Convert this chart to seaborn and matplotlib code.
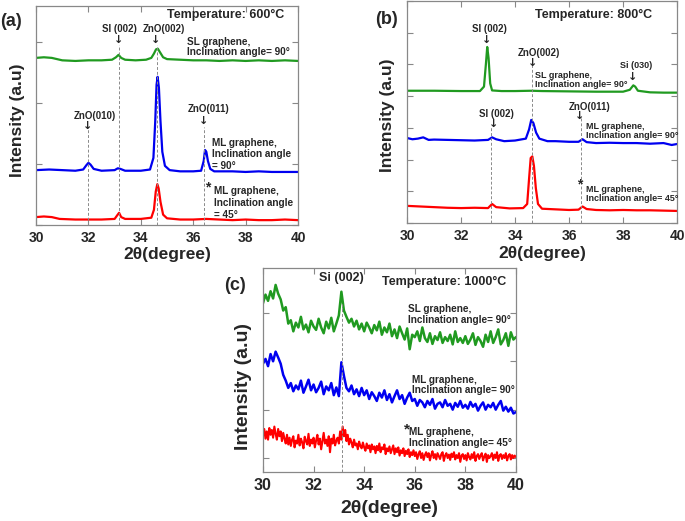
import numpy as np
import seaborn as sns
import matplotlib.pyplot as plt

# ---------------- data ----------------
# panel (a) 600 C
a_sl_x = [30.0, 30.3, 30.6, 30.8, 31.0, 31.5, 32.0, 32.5, 32.9, 33.05, 33.15, 33.25, 33.4, 33.8, 34.2,
          34.4, 34.5, 34.58, 34.65, 34.72, 34.85, 35.0, 35.5, 36.0, 36.5, 37.0, 37.5, 38.0, 38.5, 39.0, 39.5, 40.0]
a_sl_y = [2.74, 2.75, 2.74, 2.72, 2.70, 2.69, 2.70, 2.70, 2.71, 2.75, 2.79, 2.74, 2.71, 2.70, 2.71,
          2.74, 2.81, 2.88, 2.89, 2.84, 2.75, 2.72, 2.71, 2.70, 2.70, 2.69, 2.70, 2.69, 2.70, 2.69, 2.70, 2.69]

a_ml90_x = [30.0, 30.5, 31.0, 31.5, 31.8, 31.92, 32.0, 32.08, 32.2, 32.5, 33.0, 33.12, 33.22, 33.4, 34.0,
            34.35, 34.48, 34.55, 34.6, 34.64, 34.69, 34.75, 34.82, 34.92, 35.1, 35.5, 36.0, 36.3, 36.4,
            36.45, 36.5, 36.56, 36.65, 36.8, 37.5, 38.0, 38.5, 39.0, 39.5, 40.0]
a_ml90_y = [0.90, 0.91, 0.90, 0.89, 0.91, 0.98, 1.02, 0.99, 0.92, 0.89, 0.90, 0.93, 0.92, 0.89, 0.89,
            0.91, 1.10, 1.70, 2.30, 2.43, 2.25, 1.70, 1.20, 0.97, 0.90, 0.88, 0.88, 0.89, 1.05,
            1.23, 1.20, 1.05, 0.92, 0.88, 0.88, 0.87, 0.88, 0.87, 0.87, 0.87]

a_ml45_x = [30.0, 30.3, 30.6, 30.9, 31.5, 32.0, 32.5, 33.0, 33.1, 33.17, 33.25, 33.4, 34.0, 34.4, 34.5,
            34.57, 34.63, 34.68, 34.75, 34.85, 35.0, 35.5, 36.0, 36.5, 37.0, 37.5, 38.0, 38.5, 39.0, 39.5, 40.0]
a_ml45_y = [0.13, 0.14, 0.13, 0.10, 0.09, 0.09, 0.09, 0.10, 0.16, 0.20, 0.13, 0.10, 0.10, 0.12, 0.25,
            0.55, 0.67, 0.60, 0.38, 0.17, 0.11, 0.09, 0.09, 0.10, 0.09, 0.08, 0.09, 0.08, 0.08, 0.09, 0.08]

# panel (b) 800 C
b_sl_x = [30.0, 31.0, 32.0, 32.7, 32.85, 32.92, 32.97, 33.02, 33.08, 33.15, 33.5, 34.0, 34.6, 35.0, 36.0,
          37.0, 38.0, 38.25, 38.38, 38.45, 38.55, 39.0, 39.5, 40.0]
b_sl_y = [4.17, 4.17, 4.16, 4.16, 4.30, 5.00, 5.55, 5.20, 4.40, 4.18, 4.16, 4.16, 4.17, 4.16, 4.15,
          4.14, 4.14, 4.20, 4.34, 4.30, 4.17, 4.12, 4.11, 4.11]

b_ml90_x = [30.0, 30.2, 30.4, 30.6, 30.8, 31.0, 31.5, 32.0, 32.5, 33.0, 33.15, 33.3, 33.6, 34.0, 34.4,
            34.52, 34.6, 34.68, 34.78, 34.9, 35.2, 35.5, 36.0, 36.35, 36.5, 36.65, 37.0, 37.5, 38.0,
            38.5, 39.0, 39.5, 39.8, 40.0]
b_ml90_y = [2.68, 2.64, 2.66, 2.70, 2.62, 2.63, 2.62, 2.61, 2.60, 2.62, 2.70, 2.64, 2.58, 2.60, 2.66,
            2.95, 3.25, 3.15, 2.85, 2.66, 2.58, 2.58, 2.56, 2.56, 2.64, 2.55, 2.52, 2.53, 2.52,
            2.52, 2.50, 2.52, 2.46, 2.49]

b_ml45_x = [30.0, 30.5, 31.0, 31.5, 32.0, 32.5, 33.0, 33.15, 33.3, 33.8, 34.3, 34.45, 34.52, 34.58, 34.64,
            34.7, 34.77, 34.85, 35.0, 35.5, 36.0, 36.35, 36.5, 36.65, 37.0, 37.5, 38.0, 38.5, 39.0, 39.5, 40.0]
b_ml45_y = [0.54, 0.52, 0.50, 0.48, 0.47, 0.48, 0.47, 0.60, 0.50, 0.46, 0.47, 0.60, 1.40, 2.05, 2.10,
            1.80, 1.10, 0.60, 0.45, 0.43, 0.41, 0.42, 0.52, 0.44, 0.41, 0.40, 0.41, 0.40, 0.40, 0.39, 0.38]

# panel (c) 1000 C, scans with 0.1 deg (SL, ML 90) and 0.05 deg (ML 45) steps
c_step_coarse = 0.1
c_step_fine = 0.05
c_sl_y = [3.20, 3.38, 3.25, 3.45, 3.30, 3.58, 3.40, 3.28, 3.05, 3.12,
          2.78, 2.85, 2.62, 2.80, 2.70, 2.92, 2.66, 2.76, 2.60, 2.84,
          2.72, 2.65, 2.88, 2.70, 2.58, 2.82, 2.68, 2.90, 2.62, 2.78,
          2.95, 3.44, 3.05, 2.92, 2.80, 2.88, 2.72, 2.84, 2.66, 2.78,
          2.62, 2.80, 2.70, 2.58, 2.75, 2.64, 2.82, 2.55, 2.70, 2.60,
          2.78, 2.52, 2.66, 2.48, 2.72, 2.58, 2.45, 2.68, 2.25, 2.55,
          2.50, 2.62, 2.42, 2.70, 2.48, 2.40, 2.58, 2.36, 2.52, 2.44,
          2.60, 2.38, 2.50, 2.42, 2.55, 2.35, 2.62, 2.40, 2.48, 2.38,
          2.52, 2.36, 2.45, 2.58, 2.34, 2.50, 2.42, 2.30, 2.55, 2.40,
          2.62, 2.38, 2.50, 2.66, 2.35, 2.44, 2.58, 2.32, 2.60, 2.45,
          2.50]
c_ml90_y = [1.95, 2.05, 1.90, 2.15, 2.00, 2.20, 2.08, 1.95, 1.72, 1.60,
            1.45, 1.55, 1.38, 1.50, 1.42, 1.60, 1.35, 1.48, 1.62, 1.40,
            1.52, 1.36, 1.45, 1.58, 1.32, 1.48, 1.40, 1.55, 1.30, 1.46,
            1.28, 1.98, 1.70, 1.45, 1.38, 1.50, 1.32, 1.42, 1.28, 1.45,
            1.30, 1.40, 1.22, 1.36, 1.28, 1.18, 1.35, 1.25, 1.40, 1.20,
            1.32, 1.15, 1.28, 1.40, 1.22, 1.30, 1.12, 1.25, 1.35, 1.18,
            1.22, 1.08, 1.20, 1.15, 1.05, 1.18, 1.10, 1.22, 1.02, 1.12,
            1.15, 1.05, 1.20, 1.08, 1.12, 1.00, 1.14, 1.06, 1.18, 1.04,
            1.10, 1.02, 1.16, 1.06, 1.12, 0.98, 1.08, 1.15, 1.00, 1.10,
            1.05, 1.14, 1.00, 1.10, 1.18, 0.98, 1.06, 0.96, 1.04, 0.92,
            0.95]
c_ml45_y = [0.45, 0.60, 0.40, 0.55, 0.38, 0.62, 0.48, 0.58, 0.42, 0.65,
            0.50, 0.38, 0.60, 0.45, 0.55, 0.35, 0.52, 0.40, 0.30, 0.48,
            0.28, 0.42, 0.25, 0.38, 0.45, 0.22, 0.36, 0.30, 0.48, 0.26,
            0.40, 0.32, 0.20, 0.44, 0.35, 0.28, 0.50, 0.25, 0.38, 0.30,
            0.42, 0.22, 0.36, 0.48, 0.28, 0.40, 0.18, 0.35, 0.52, 0.30,
            0.38, 0.25, 0.45, 0.12, 0.40, 0.30, 0.48, 0.26, 0.36, 0.42,
            0.30, 0.55, 0.38, 0.65, 0.45, 0.58, 0.35, 0.48, 0.28, 0.40,
            0.32, 0.22, 0.38, 0.26, 0.30, 0.18, 0.34, 0.25, 0.20, 0.32,
            0.22, 0.15, 0.30, 0.20, 0.26, 0.12, 0.28, 0.18, 0.24, 0.10,
            0.25, 0.16, 0.30, 0.12, 0.22, 0.18, 0.28, 0.08, 0.20, 0.14,
            0.24, 0.10, 0.18, 0.26, 0.08, 0.20, 0.12, 0.22, 0.05, 0.16,
            0.10, 0.20, 0.04, 0.15, 0.08, 0.18, 0.02, 0.12, 0.06, 0.16,
            0.04, 0.12, -0.02, 0.08, 0.14, 0.00, 0.10, -0.04, 0.06, 0.12,
            0.02, 0.10, -0.05, 0.06, 0.14, 0.00, 0.08, -0.03, 0.10, 0.04,
            -0.02, 0.08, 0.12, -0.06, 0.05, 0.10, 0.00, 0.07, -0.04, 0.09,
            0.02, 0.12, -0.03, 0.06, 0.00, 0.10, -0.08, 0.05, 0.08, -0.02,
            0.06, -0.05, 0.10, 0.02, -0.03, 0.08, 0.00, 0.12, -0.06, 0.04,
            0.08, -0.02, 0.05, 0.10, -0.05, 0.03, 0.09, -0.08, 0.06, 0.00,
            0.04, 0.10, -0.04, 0.07, 0.00, 0.12, -0.06, 0.05, 0.08, -0.02,
            0.06, 0.00, 0.10, -0.05, 0.04, 0.08, -0.03, 0.06, 0.00, 0.05,
            0.02]

xticks = [30, 32, 34, 36, 38, 40]
temps = ["Temperature: 600°C", "Temperature: 800°C", "Temperature: 1000°C"]
SL90 = "SL graphene,\nInclination angle= 90°"
ML90 = "ML graphene,\nInclination angle= 90°"
ML45 = "ML graphene,\nInclination angle= 45°"

GREEN = "#209a20"
BLUE = "#0000f0"
RED = "#ff0000"

#########################################

sns.set_style("ticks")
plt.rcParams['font.family'] = ['Liberation Sans', 'DejaVu Sans']
plt.rcParams['font.weight'] = 'bold'
plt.rcParams['axes.labelweight'] = 'bold'

fig = plt.figure(figsize=(6.85, 5.21), dpi=100)

ax_a = fig.add_axes([0.0526, 0.5681, 0.3825, 0.4203])
ax_b = fig.add_axes([0.5942, 0.5720, 0.3942, 0.4261])
ax_c = fig.add_axes([0.3839, 0.0940, 0.3693, 0.3916])


def style_axes(ax, ylim, yticks, tick_fs, label_fs, xl_y, yl_x, yl_y):
    ax.set_xlim(30, 40)
    ax.set_ylim(*ylim)
    ax.set_xticks(xticks)
    ax.set_xticklabels([str(t) for t in xticks], fontsize=tick_fs, fontweight='bold')
    ax.set_yticks(yticks)
    ax.set_yticklabels([])
    ax.tick_params(direction='in', top=True, right=True, length=4, width=0.8,
                   color='#888888', pad=4)
    for s in ax.spines.values():
        s.set_color('#888888')
        s.set_linewidth(0.9)
    ax.set_xlabel("2θ(degree)", fontsize=label_fs, fontweight='bold')
    ax.set_ylabel("Intensity (a.u)", fontsize=label_fs, fontweight='bold')
    ax.xaxis.set_label_coords(0.5, xl_y)
    ax.yaxis.set_label_coords(yl_x, yl_y)


def arrow_label(ax, x, y_text, y_arrow, text, x_text=None, fs=7):
    ax.text(x if x_text is None else x_text, y_text, text, ha='center', va='center',
            fontsize=fs, fontweight='bold')
    ax.text(x, y_arrow, "↓", ha='center', va='center', fontsize=8, fontweight='bold',
            family=['DejaVu Sans'])


dash_kw = dict(colors='#8a8a8a', linestyles=(0, (3, 2)), linewidths=0.7)

# ---------- (a) ----------
sns.lineplot(x=a_sl_x, y=a_sl_y, ax=ax_a, color=GREEN, lw=1.6)
sns.lineplot(x=a_ml90_x, y=a_ml90_y, ax=ax_a, color=BLUE, lw=1.6)
sns.lineplot(x=a_ml45_x, y=a_ml45_y, ax=ax_a, color=RED, lw=1.6)
style_axes(ax_a, (0, 3.59), [0, 1, 2, 3], 10, 12.5, -0.10, -0.042, 0.48)
ax_a.vlines([31.97, 36.42], 0, 1.6, **dash_kw)
ax_a.vlines([33.15, 34.62], 0, 2.95, **dash_kw)
ax_a.text(35.0, 3.44, temps[0], ha='left', va='center', fontsize=9, fontweight='bold')
arrow_label(ax_a, 33.15, 3.21, 3.03, "SI (002)", x_text=33.2)
arrow_label(ax_a, 34.58, 3.21, 3.03, "ZnO(002)", x_text=34.89)
arrow_label(ax_a, 31.95, 1.79, 1.62, "ZnO(010)", x_text=32.23)
arrow_label(ax_a, 36.41, 1.90, 1.71, "ZnO(011)", x_text=36.6)
ax_a.text(35.76, 2.92, SL90, ha='left', va='center', fontsize=7.2, fontweight='bold', linespacing=1.1)
ax_a.text(36.72, 1.16, "ML graphene,\nInclination angle\n= 90°", ha='left', va='center',
          fontsize=7.2, fontweight='bold', linespacing=1.2)
ax_a.text(36.56, 0.62, "*", ha='center', va='center', fontsize=10, fontweight='bold')
ax_a.text(36.8, 0.36, "ML graphene,\nInclination angle\n= 45°", ha='left', va='center',
          fontsize=7.2, fontweight='bold', linespacing=1.2)

# ---------- (b) ----------
sns.lineplot(x=b_sl_x, y=b_sl_y, ax=ax_b, color=GREEN, lw=1.6)
sns.lineplot(x=b_ml90_x, y=b_ml90_y, ax=ax_b, color=BLUE, lw=1.6)
sns.lineplot(x=b_ml45_x, y=b_ml45_y, ax=ax_b, color=RED, lw=1.6)
style_axes(ax_b, (0, 7.0), list(range(8)), 10, 12.5, -0.105, -0.044, 0.486)
ax_b.vlines([34.63], 0, 5.05, **dash_kw)
ax_b.vlines([33.11], 0, 3.05, **dash_kw)
ax_b.vlines([36.44], 0, 3.3, **dash_kw)
ax_b.text(34.74, 6.56, temps[1], ha='left', va='center', fontsize=9, fontweight='bold')
arrow_label(ax_b, 32.96, 6.12, 5.77, "SI (002)", x_text=33.07)
arrow_label(ax_b, 34.63, 5.36, 5.05, "ZnO(002)", x_text=34.87)
arrow_label(ax_b, 38.37, 4.98, 4.61, "Si (030)", x_text=38.48, fs=6.5)
arrow_label(ax_b, 33.19, 3.43, 3.12, "SI (002)", x_text=33.3)
arrow_label(ax_b, 36.4, 3.65, 3.37, "ZnO(011)", x_text=36.78)
ax_b.text(34.74, 4.51, SL90, ha='left', va='center', fontsize=6.5, fontweight='bold', linespacing=1.1)
ax_b.text(36.63, 2.9, ML90, ha='left', va='center', fontsize=6.5, fontweight='bold', linespacing=1.1)
ax_b.text(36.4, 1.22, "*", ha='center', va='center', fontsize=10, fontweight='bold')
ax_b.text(36.63, 0.91, ML45, ha='left', va='center', fontsize=6.5, fontweight='bold', linespacing=1.1)

# ---------- (c) ----------
c_x_coarse = np.round(30 + c_step_coarse * np.arange(len(c_sl_y)), 2)
c_x_fine = np.round(30 + c_step_fine * np.arange(len(c_ml45_y)), 2)
sns.lineplot(x=c_x_coarse, y=c_sl_y, ax=ax_c, color=GREEN, lw=1.8)
sns.lineplot(x=c_x_coarse, y=c_ml90_y, ax=ax_c, color=BLUE, lw=1.8)
sns.lineplot(x=c_x_fine, y=c_ml45_y, ax=ax_c, color=RED, lw=1.5)
style_axes(ax_c, (-0.29, 3.93), [0, 1, 2, 3], 11.5, 14, -0.135, -0.043, 0.42)
ax_c.vlines([33.12], -0.29, 3.2, **dash_kw)
ax_c.text(34.7, 3.64, temps[2], ha='left', va='center', fontsize=9, fontweight='bold')
ax_c.text(33.08, 3.73, "Si (002)", ha='center', va='center', fontsize=9, fontweight='bold')
ax_c.text(35.73, 2.96, SL90, ha='left', va='center', fontsize=7.2, fontweight='bold', linespacing=1.1)
ax_c.text(35.89, 1.51, ML90, ha='left', va='center', fontsize=7.2, fontweight='bold', linespacing=1.1)
ax_c.text(35.69, 0.60, "*", ha='center', va='center', fontsize=11, fontweight='bold')
ax_c.text(35.77, 0.43, ML45, ha='left', va='center', fontsize=7.2, fontweight='bold', linespacing=1.1)

# panel letters
fig.text(11 / 685, 1 - 22 / 521, "(a)", ha='center', va='center', fontsize=13, fontweight='bold')
fig.text(387 / 685, 1 - 20 / 521, "(b)", ha='center', va='center', fontsize=13, fontweight='bold')
fig.text(235 / 685, 1 - 285 / 521, "(c)", ha='center', va='center', fontsize=13, fontweight='bold')

plt.savefig("out.png", dpi=100)
